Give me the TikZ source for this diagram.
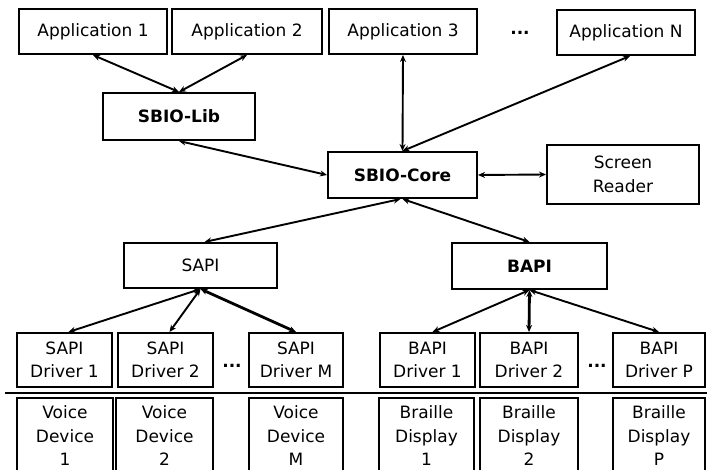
\documentclass[tikz,border=0pt]{standalone}
\usepackage{fontspec}
\setmainfont{DejaVu Sans}
\usetikzlibrary{arrows.meta}
\begin{document}
\begin{tikzpicture}[x=1pt,y=-1pt,
  box/.style={draw,line width=2pt,inner sep=0pt,align=center,font=\fontsize{17}{21}\selectfont},
  bbox/.style={box,font=\fontsize{17}{21}\selectfont\bfseries},
  drv/.style={box,minimum height=54pt,font=\fontsize{17}{23}\selectfont},
  dev/.style={box,minimum height=76pt,font=\fontsize{17}{23.5}\selectfont},
  link/.style={line width=1.9pt,{Stealth[length=7pt,width=6pt]}-{Stealth[length=7pt,width=6pt]}},
  thick link/.style={link,line width=2.8pt},
  dotsl/.style={font=\fontsize{17}{20}\selectfont\bfseries}]
\useasboundingbox (0,0) rectangle (707,470);
\begin{scope}
\clip (0,0) rectangle (707,470);
% top applications
\node[box,minimum width=148pt,minimum height=45pt] (app1) at (93,31.5) {Application 1};
\node[box,minimum width=150pt,minimum height=45pt] (app2) at (247,31.5) {Application 2};
\node[box,minimum width=148pt,minimum height=45pt] (app3) at (403,31.5) {Application 3};
\node[box,minimum width=138pt,minimum height=45pt] (appn) at (626,32.5) {Application N};
\node[dotsl] (d0) at (520,33) {...};
% middle
\node[bbox,minimum width=152pt,minimum height=47pt] (lib) at (179,116.5) {SBIO-Lib};
\node[bbox,minimum width=149pt,minimum height=46pt] (core) at (402.5,175) {SBIO-Core};
\node[box,minimum width=152pt,minimum height=59pt,font=\fontsize{17}{24}\selectfont] (sr) at (623,174.5) {Screen\\Reader};
\node[box,minimum width=153pt,minimum height=45pt] (sapi) at (200.5,265.5) {SAPI};
\node[bbox,minimum width=155pt,minimum height=46pt] (bapi) at (529.5,266) {BAPI};
% drivers
\node[drv,minimum width=95pt] (sd1) at (64.5,360) {SAPI\\Driver 1};
\node[drv,minimum width=95pt] (sd2) at (165.5,360) {SAPI\\Driver 2};
\node[drv,minimum width=94pt] (sdm) at (296,360) {SAPI\\Driver M};
\node[drv,minimum width=95pt] (bd1) at (427.5,360) {BAPI\\Driver 1};
\node[drv,minimum width=98pt] (bd2) at (529,360) {BAPI\\Driver 2};
\node[drv,minimum width=92pt] (bdp) at (659,360) {BAPI\\Driver P};
\node[dotsl] (d1) at (232,366) {...};
\node[dotsl] (d2) at (597,366) {...};
% separator line
\coordinate (l0) at (5,393);
\coordinate (l1) at (707,393);
\draw[line width=2.8pt] (l0) -- (l1);
% devices
\node[dev,minimum width=96pt] (vd1) at (65,436) {Voice\\Device\\1};
\node[dev,minimum width=97pt] (vd2) at (164.5,436) {Voice\\Device\\2};
\node[dev,minimum width=94pt] (vdm) at (296,436) {Voice\\Device\\M};
\node[dev,minimum width=95pt] (br1) at (426.5,436) {Braille\\Display\\1};
\node[dev,minimum width=98pt] (br2) at (529,436) {Braille\\Display\\2};
\node[dev,minimum width=92pt] (brp) at (659,436) {Braille\\Display\\P};
\end{scope}
% connectors
\draw[link] (app1.south) -- (lib.north);
\draw[link] (app2.south) -- (lib.north);
\draw[link] (lib.south) -- (core.west);
\draw[link] (app3.south) -- (core.north);
\draw[link] ([xshift=4pt]appn.south) -- (core.north);
\draw[link] (core.east) -- (sr.west);
\draw[link] ([xshift=-2pt]core.south) -- ([xshift=4pt]sapi.north);
\draw[link] (core.south) -- (bapi.north);
\draw[link] (sapi.south) -- ([xshift=4pt]sd1.north);
\draw[link] (sapi.south) -- ([xshift=4pt]sd2.north);
\draw[thick link] (sapi.south) -- (sdm.north);
\draw[link] (bapi.south) -- ([xshift=5pt]bd1.north);
\draw[thick link] (bapi.south) -- (bd2.north);
\draw[link] (bapi.south) -- (bdp.north);
\end{tikzpicture}
\end{document}
